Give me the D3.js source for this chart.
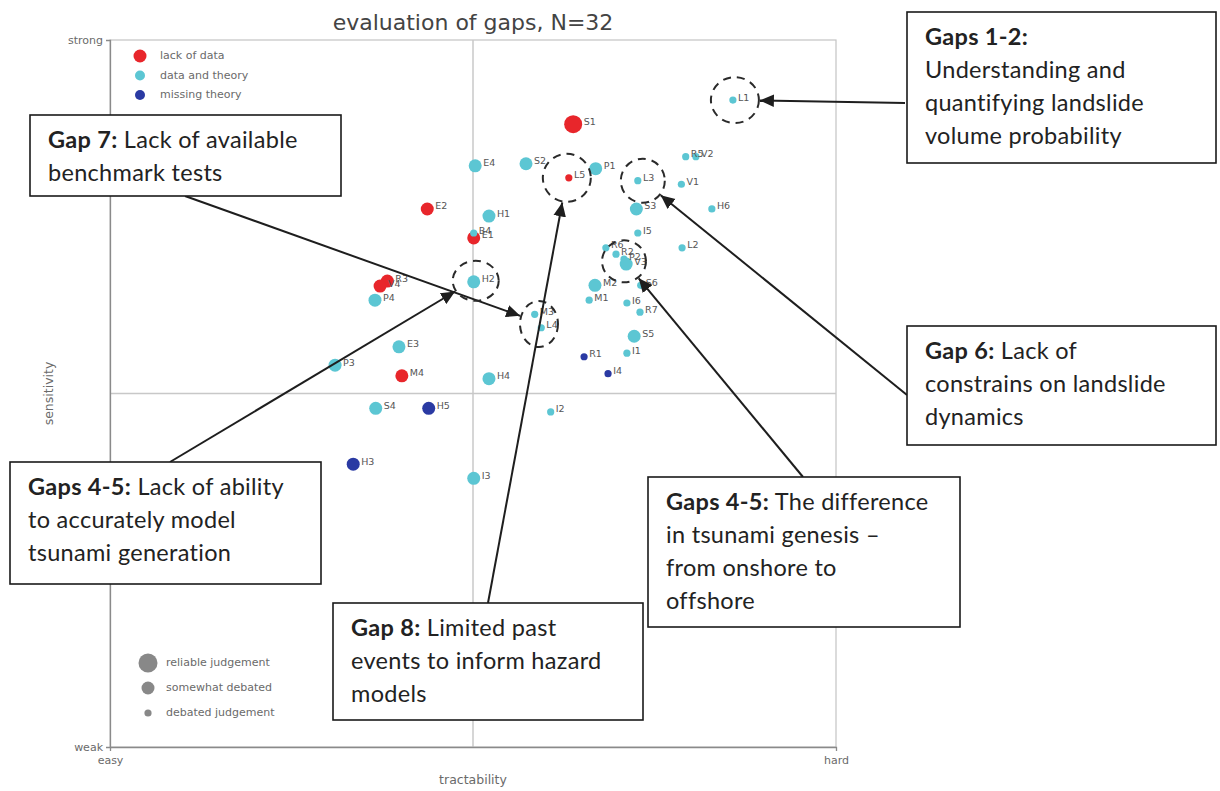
<!DOCTYPE html>
<html>
<head>
<meta charset="utf-8">
<script src="https://cdn.jsdelivr.net/npm/d3@7"></script>
<style>
  html, body { margin: 0; padding: 0; background: #fff; }
  svg { display: block; }
</style>
</head>
<body>
<svg id="chart" width="1220" height="791"></svg>
<script>
// ---- data ----------------------------------------------------------------
// gap identifiers
const labels = ["S1","L5","E2","E1","B4","R3","V4","M4","P4","E3","P3","S4","H5","H3","I3","H4",
  "I2","R1","I4","I1","S5","R7","I6","M2","M1","S6","R6","R2","P2","V3","I5","L2","S3","H6",
  "V1","L3","R5","V2","P1","S2","E4","H1","H2","M3","L4","L1"];
// tractability (0 = easy, 1 = hard)
const tractability = [0.638,0.632,0.437,0.501,0.501,0.382,0.372,0.402,0.365,0.398,0.310,0.366,0.439,0.335,0.501,0.522,
  0.607,0.653,0.686,0.712,0.722,0.730,0.712,0.668,0.660,0.731,0.683,0.697,0.708,0.711,0.727,0.788,0.725,0.829,
  0.787,0.727,0.793,0.807,0.669,0.573,0.503,0.522,0.501,0.585,0.594,0.858];
// sensitivity (0 = weak, 1 = strong)
const sensitivity = [0.881,0.805,0.761,0.720,0.727,0.659,0.652,0.525,0.632,0.566,0.540,0.479,0.479,0.400,0.380,0.521,
  0.474,0.552,0.528,0.557,0.581,0.615,0.628,0.653,0.632,0.653,0.706,0.697,0.690,0.683,0.727,0.706,0.761,0.761,
  0.796,0.801,0.835,0.835,0.818,0.825,0.822,0.751,0.658,0.612,0.593,0.915];
// evidence category: "lack of data" | "data and theory" | "missing theory"
const category = ["lack of data","lack of data","lack of data","lack of data","data and theory","lack of data","lack of data","lack of data",
  "data and theory","data and theory","data and theory","data and theory","missing theory","missing theory","data and theory","data and theory",
  "data and theory","missing theory","missing theory","data and theory","data and theory","data and theory","data and theory","data and theory",
  "data and theory","data and theory","data and theory","data and theory","data and theory","data and theory","data and theory","data and theory",
  "data and theory","data and theory","data and theory","data and theory","data and theory","data and theory","data and theory","data and theory",
  "data and theory","data and theory","data and theory","data and theory","data and theory","data and theory"];
// judgement quality: "reliable judgement" | "somewhat debated" | "debated judgement"
const judgement = ["reliable judgement","debated judgement","somewhat debated","somewhat debated","debated judgement","somewhat debated","somewhat debated","somewhat debated",
  "somewhat debated","somewhat debated","somewhat debated","somewhat debated","somewhat debated","somewhat debated","somewhat debated","somewhat debated",
  "debated judgement","debated judgement","debated judgement","debated judgement","somewhat debated","debated judgement","debated judgement","somewhat debated",
  "debated judgement","debated judgement","debated judgement","debated judgement","debated judgement","somewhat debated","debated judgement","debated judgement",
  "somewhat debated","debated judgement","debated judgement","debated judgement","debated judgement","debated judgement","somewhat debated","somewhat debated",
  "somewhat debated","somewhat debated","somewhat debated","debated judgement","debated judgement","debated judgement"];

const categoryNames = ["lack of data","data and theory","missing theory"];
const judgementNames = ["reliable judgement","somewhat debated","debated judgement"];
const xTickLabels = ["easy","hard"];
const yTickLabels = ["weak","strong"];
const chartTitle = "evaluation of gaps, N=32";

// annotation callouts: bold lead, remaining lines
const noteLeads = ["Gaps 1-2:","Gap 7:","Gap 6:","Gaps 4-5:","Gaps 4-5:","Gap 8:"];
const noteLines = [
  ["Understanding and","quantifying landslide","volume probability"],
  [" Lack of available","benchmark tests"],
  [" Lack of","constrains on landslide","dynamics"],
  [" Lack of ability","to accurately model","tsunami generation"],
  [" The difference","in tsunami genesis –","from onshore to","offshore"],
  [" Limited past","events to inform hazard","models"]
];
// gap(s) each callout rings and points at
const noteTargets = [["L1"],["M3","L4"],["L3"],["H2"],["R6","R2","P2","V3"],["L5"]];

// ---- layout ----------------------------------------------------------------
const svg = d3.select("#chart");
const plot = { left: 110, right: 836, top: 40, bottom: 747 };
const x = d3.scaleLinear().domain([0, 1]).range([plot.left, plot.right]);
const y = d3.scaleLinear().domain([0, 1]).range([plot.bottom, plot.top]);
const color = d3.scaleOrdinal().domain(categoryNames).range(["#e8262b", "#5cc6d3", "#2a3aa3"]);
const radius = d3.scaleOrdinal().domain(judgementNames).range([9, 6.5, 3.6]);

const points = labels.map((id, i) => ({
  id, x: tractability[i], y: sensitivity[i], cat: category[i], judge: judgement[i]
}));
const byId = new Map(points.map(p => [p.id, p]));

const axisFont = "DejaVu Sans, sans-serif";
const grey = "#6a6a6a";

// frame
svg.append("rect")
  .attr("x", plot.left).attr("y", plot.top)
  .attr("width", plot.right - plot.left).attr("height", plot.bottom - plot.top)
  .attr("fill", "none").attr("stroke", "#c4c4c4").attr("stroke-width", 1.2);

// quadrant dividers
svg.append("line").attr("x1", x(0.5)).attr("x2", x(0.5)).attr("y1", plot.top).attr("y2", plot.bottom)
  .attr("stroke", "#c8c8c8").attr("stroke-width", 1.5);
svg.append("line").attr("x1", plot.left).attr("x2", plot.right).attr("y1", y(0.5)).attr("y2", y(0.5))
  .attr("stroke", "#c8c8c8").attr("stroke-width", 1.5);

// axes
const xAxis = d3.axisBottom(x).tickValues([0, 1]).tickSize(4)
  .tickFormat((d, i) => xTickLabels[i]);
const yAxis = d3.axisLeft(y).tickValues([0, 1]).tickSize(4)
  .tickFormat((d, i) => yTickLabels[i]);
const gx = svg.append("g").attr("transform", `translate(0,${plot.bottom})`).call(xAxis);
const gy = svg.append("g").attr("transform", `translate(${plot.left},0)`).call(yAxis);
[gx, gy].forEach(g => {
  g.select(".domain").attr("stroke", "#8a8a8a").attr("stroke-width", 1.3);
  g.selectAll(".tick line").attr("stroke", "#8a8a8a");
  g.selectAll(".tick text").attr("fill", grey).attr("font-family", axisFont).attr("font-size", 11);
});
gx.selectAll(".tick text").attr("dy", "0.95em");
gy.selectAll(".tick text").attr("dy", "0.35em");

svg.append("text").attr("x", x(0.5)).attr("y", 784).attr("text-anchor", "middle")
  .attr("font-family", axisFont).attr("font-size", 12.5).attr("fill", grey).text("tractability");
svg.append("text").attr("transform", `translate(53,${y(0.5)}) rotate(-90)`).attr("text-anchor", "middle")
  .attr("font-family", axisFont).attr("font-size", 12.5).attr("fill", grey).text("sensitivity");

svg.append("text").attr("x", x(0.5)).attr("y", 30).attr("text-anchor", "middle")
  .attr("font-family", axisFont).attr("font-size", 22).attr("fill", "#444").text(chartTitle);

// points
const pts = svg.append("g");
pts.selectAll("circle").data(points).join("circle")
  .attr("cx", d => x(d.x)).attr("cy", d => y(d.y))
  .attr("r", d => radius(d.judge)).attr("fill", d => color(d.cat));
pts.selectAll("text").data(points).join("text")
  .attr("x", d => x(d.x) + radius(d.judge) + 1.5).attr("y", d => y(d.y) - 2)
  .attr("dominant-baseline", "middle")
  .attr("font-family", axisFont).attr("font-size", 9.5).attr("fill", "#555")
  .text(d => d.id);

// legend: evidence category
const legCat = svg.append("g").attr("transform", "translate(140,56)");
categoryNames.forEach((c, i) => {
  legCat.append("circle").attr("cx", 0).attr("cy", i * 19.5)
    .attr("r", i === 0 ? 6.5 : 5).attr("fill", color(c));
  legCat.append("text").attr("x", 20).attr("y", i * 19.5).attr("dominant-baseline", "middle")
    .attr("font-family", axisFont).attr("font-size", 11).attr("fill", grey).text(c);
});

// legend: judgement quality
const legJ = svg.append("g").attr("transform", "translate(148,663)");
judgementNames.forEach((j, i) => {
  legJ.append("circle").attr("cx", 0).attr("cy", i * 25).attr("r", radius(j) + (i === 0 ? 0.5 : 0))
    .attr("fill", "#888");
  legJ.append("text").attr("x", 18).attr("y", i * 25).attr("dominant-baseline", "middle")
    .attr("font-family", axisFont).attr("font-size", 11).attr("fill", grey).text(j);
});

// ---- callouts ----------------------------------------------------------------
// box rectangles (pixels) and where each arrow leaves its box
const boxes = [
  { x: 907, y: 12,  w: 309, h: 151, ax: 905, ay: 103 },
  { x: 30,  y: 115, w: 311, h: 81,  ax: 185, ay: 196 },
  { x: 907, y: 326, w: 309, h: 119, ax: 907, ay: 395 },
  { x: 10,  y: 462, w: 311, h: 122, ax: 170, ay: 462 },
  { x: 648, y: 477, w: 312, h: 150, ax: 803, ay: 477 },
  { x: 333, y: 603, w: 310, h: 117, ax: 488, ay: 603 }
];
// ring around each target group
const rings = [
  { rx: 24, ry: 23, dx: 2, dy: 0 },
  { rx: 19, ry: 23, dx: 1, dy: 3 },
  { rx: 22, ry: 22, dx: 5, dy: 0 },
  { rx: 23, ry: 20, dx: 2, dy: -1 },
  { rx: 22, ry: 21, dx: 6, dy: 5 },
  { rx: 24, ry: 24, dx: -2, dy: 0 }
];

svg.append("defs").append("marker")
  .attr("id", "head").attr("viewBox", "0 0 10 10").attr("refX", 10).attr("refY", 5)
  .attr("markerWidth", 7).attr("markerHeight", 7).attr("markerUnits", "strokeWidth")
  .attr("orient", "auto")
  .append("path").attr("d", "M0,0.5 L10,5 L0,9.5 Z").attr("fill", "#1e1e1e");

const callouts = svg.append("g");
noteTargets.forEach((ids, i) => {
  const members = ids.map(id => byId.get(id));
  const cx = d3.mean(members, m => x(m.x)) + rings[i].dx;
  const cy = d3.mean(members, m => y(m.y)) + rings[i].dy;
  const { rx, ry } = rings[i];
  callouts.append("ellipse").attr("cx", cx).attr("cy", cy).attr("rx", rx).attr("ry", ry)
    .attr("fill", "none").attr("stroke", "#2a2a2a").attr("stroke-width", 2)
    .attr("stroke-dasharray", "8,6");
  const b = boxes[i];
  const ang = Math.atan2(cy - b.ay, cx - b.ax);
  const tx = cx - Math.cos(ang) * (rx + 1);
  const ty = cy - Math.sin(ang) * (ry + 1);
  callouts.append("line").attr("x1", b.ax).attr("y1", b.ay).attr("x2", tx).attr("y2", ty)
    .attr("stroke", "#1e1e1e").attr("stroke-width", 2).attr("marker-end", "url(#head)");
});

const noteFont = "Lato, 'Open Sans', sans-serif";
noteLeads.forEach((lead, i) => {
  const b = boxes[i];
  const g = svg.append("g");
  g.append("rect").attr("x", b.x).attr("y", b.y).attr("width", b.w).attr("height", b.h)
    .attr("fill", "#fff").attr("stroke", "#1a1a1a").attr("stroke-width", 1.6);
  const lines = noteLines[i];
  const inline = lines[0].startsWith(" ");
  const t = g.append("text").attr("font-family", noteFont).attr("font-size", 23.5)
    .attr("letter-spacing", 0.3).attr("fill", "#222");
  const lx = b.x + 18, ly0 = b.y + 33, lh = 33;
  const first = t.append("tspan").attr("x", lx).attr("y", ly0);
  first.append("tspan").attr("font-weight", "bold").text(lead);
  let row = 1;
  if (inline) {
    first.append("tspan").text(lines[0]);
    lines.slice(1).forEach(l => t.append("tspan").attr("x", lx).attr("y", ly0 + lh * row++).text(l));
  } else {
    lines.forEach(l => t.append("tspan").attr("x", lx).attr("y", ly0 + lh * row++).text(l));
  }
});
</script>
</body>
</html>
